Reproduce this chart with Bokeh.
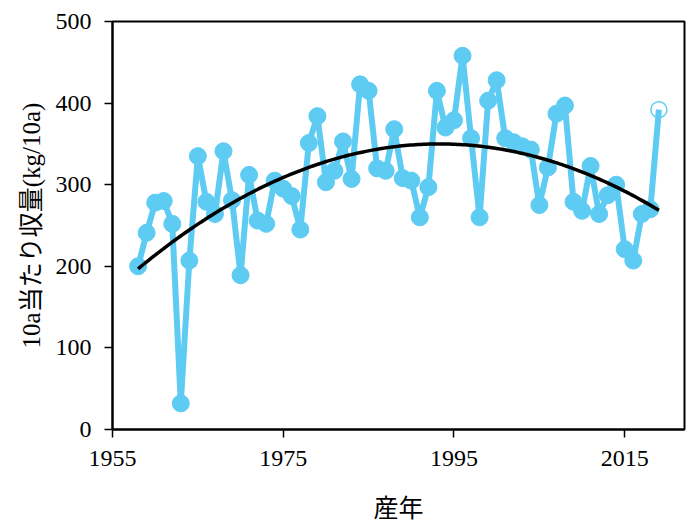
import numpy as np
from bokeh.plotting import figure
from bokeh.models import ColumnDataSource, FixedTicker, Range1d
from bokeh.embed import file_html
from bokeh.resources import INLINE

years = list(range(1958, 2020))
yields = [200, 241, 278, 280, 252, 32, 207, 335, 279, 264,
          341, 281, 189, 312, 256, 252, 305, 295, 286, 245,
          351, 384, 303, 317, 353, 307, 423, 415, 320, 317,
          368, 308, 305, 260, 297, 415, 370, 379, 458, 357,
          260, 403, 428, 357, 352, 347, 343, 275, 321, 387,
          397, 279, 268, 323, 264, 287, 300, 221, 207, 264,
          270, 392]
x_ticks = [1955, 1975, 1995, 2015]
y_ticks = [0, 100, 200, 300, 400, 500]
x_title = "産年"
y_title = "10a当たり収量(kg/10a)"

FONT = "Liberation Serif, Noto Sans CJK JP"
BLUE = "#5ECBF3"

p = figure(width=688, height=525, output_backend="svg", toolbar_location=None,
           x_range=Range1d(1955, 2022), y_range=Range1d(0, 500),
           min_border_left=112, min_border_right=4, min_border_top=21, min_border_bottom=96)
p.grid.visible = False
p.outline_line_color = "black"
p.outline_line_width = 2

src = ColumnDataSource(dict(x=years[:-1], y=yields[:-1]))
p.line(years, yields, line_color=BLUE, line_width=6)
p.scatter("x", "y", source=src, size=17, fill_color=BLUE, line_color=BLUE)
p.scatter([years[-1]], [yields[-1]], size=16, fill_color=None,
          line_color=BLUE, line_width=1.5)

coef = np.polyfit(years, yields, 2)
xs = np.linspace(years[0], years[-1], 200)
p.line(xs, np.polyval(coef, xs), line_color="black", line_width=3.5)

for ax in (p.xaxis[0], p.yaxis[0]):
    ax.axis_line_color = "black"
    ax.axis_line_width = 2
    ax.major_tick_line_color = "black"
    ax.major_tick_line_width = 1.5
    ax.major_tick_in = 0
    ax.minor_tick_line_color = None
    ax.major_label_text_font = FONT
    ax.major_label_text_font_size = "24px"
    ax.major_label_text_color = "black"
    ax.axis_label_text_font = FONT
    ax.axis_label_text_font_style = "normal"
    ax.axis_label_text_color = "black"

p.xaxis.ticker = FixedTicker(ticks=x_ticks)
p.yaxis.ticker = FixedTicker(ticks=y_ticks)
p.xaxis.major_tick_out = 8
p.yaxis.major_tick_out = 8
p.xaxis.major_label_standoff = 13
p.yaxis.major_label_standoff = 13
p.xaxis.axis_label = x_title
p.yaxis.axis_label = y_title
p.xaxis.axis_label_text_font_size = "25px"
p.yaxis.axis_label_text_font_size = "25px"
p.xaxis.axis_label_standoff = 26
p.yaxis.axis_label_standoff = 8

open("out.html", "w").write(file_html(p, INLINE))
